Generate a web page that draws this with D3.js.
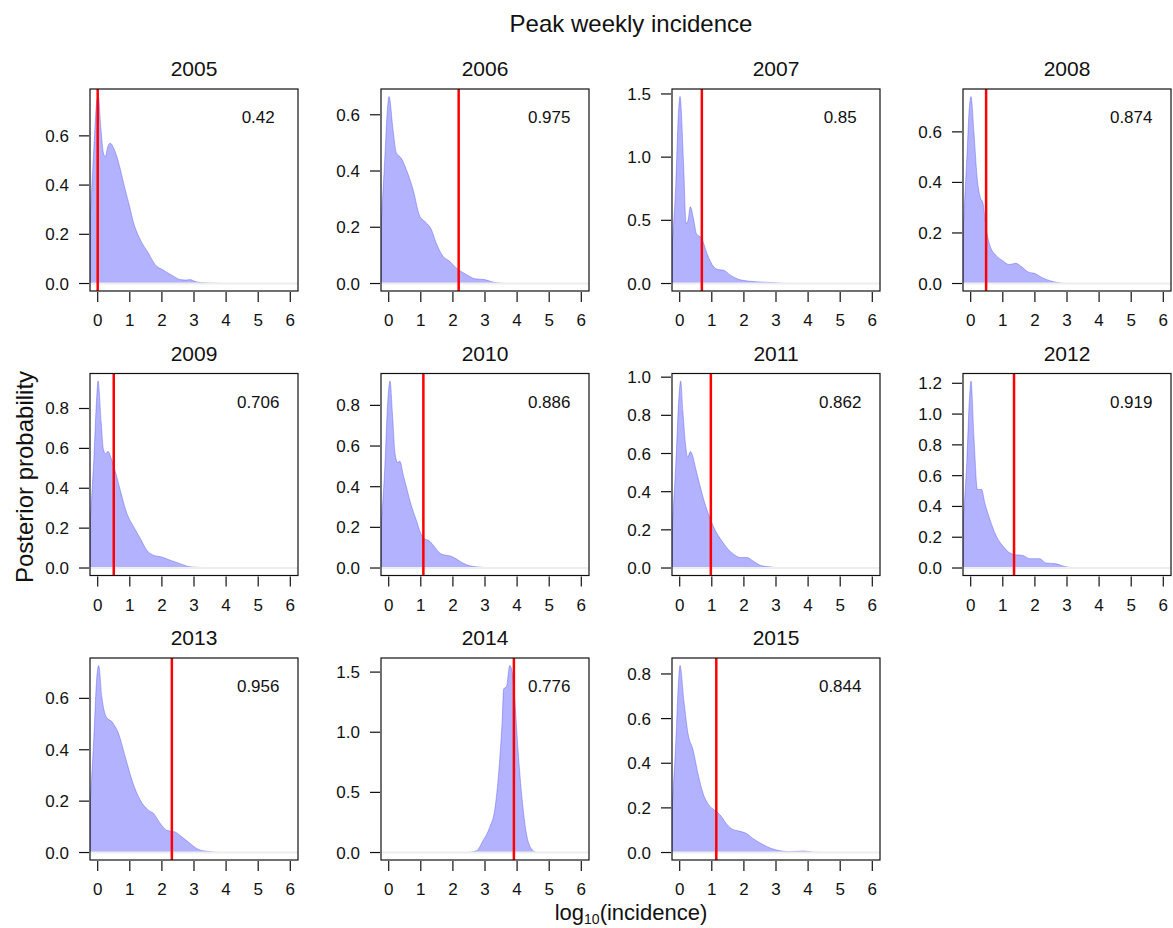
<!DOCTYPE html>
<html>
<head>
<meta charset="utf-8">
<script src="https://cdn.jsdelivr.net/npm/d3@7"></script>
<style>
  body { margin: 0; background: #fff; }
  svg text { font-family: "Liberation Sans", Arial, Helvetica, sans-serif; fill: #111; }
</style>
</head>
<body>
<div id="chart"></div>
<script>
// panel labels, observed peak (red line) and annotated probability
var years = [2005, 2006, 2007, 2008, 2009, 2010, 2011, 2012, 2013, 2014, 2015];
var observed = [0, 2.18, 0.69, 0.48, 0.5, 1.08, 0.97, 1.35, 2.31, 3.9, 1.14];
var probs = ['0.42', '0.975', '0.85', '0.874', '0.706', '0.886', '0.862', '0.919', '0.956', '0.776', '0.844'];
var xTicks = [0, 1, 2, 3, 4, 5, 6];

// posterior densities, [log10 incidence, density]
var d2005 = [[-0.24,0.25],[-0.12,0.55],[-0.03,0.74],[0.02,0.76],[0.1,0.63],[0.18,0.53],[0.24,0.515],[0.3,0.55],[0.39,0.57],[0.5,0.55],[0.6,0.515],[0.75,0.44],[0.86,0.38],[1.0,0.31],[1.12,0.246],[1.25,0.2],[1.38,0.165],[1.58,0.124],[1.7,0.095],[1.84,0.07],[2.0,0.058],[2.15,0.046],[2.36,0.03],[2.57,0.016],[2.75,0.014],[2.88,0.016],[3.0,0.01],[3.19,0.004],[3.5,0.002],[3.96,0]];
var d2006 = [[-0.24,0.2],[-0.12,0.45],[-0.04,0.62],[0.01,0.665],[0.135,0.547],[0.24,0.464],[0.39,0.446],[0.55,0.405],[0.76,0.334],[0.97,0.239],[1.12,0.221],[1.33,0.192],[1.48,0.144],[1.69,0.097],[1.9,0.079],[2.1,0.056],[2.42,0.032],[2.68,0.017],[2.99,0.014],[3.25,0.005],[3.61,0]];
var d2007 = [[-0.24,0.3],[-0.12,0.8],[-0.04,1.35],[0.01,1.48],[0.12,0.95],[0.2,0.475],[0.26,0.5],[0.33,0.607],[0.44,0.5],[0.52,0.396],[0.69,0.356],[0.85,0.238],[1.06,0.132],[1.21,0.11],[1.37,0.105],[1.58,0.066],[1.83,0.034],[2.2,0.018],[2.61,0.011],[2.92,0.008],[3.33,0]];
var d2008 = [[-0.24,0.2],[-0.12,0.5],[-0.04,0.7],[0.01,0.74],[0.1,0.6],[0.2,0.42],[0.3,0.34],[0.38,0.32],[0.48,0.22],[0.6,0.15],[0.8,0.11],[1.0,0.09],[1.2,0.075],[1.4,0.08],[1.6,0.065],[1.8,0.045],[2.0,0.04],[2.2,0.025],[2.5,0.01],[2.7,0.004],[3.0,0]];
var d2009 = [[-0.24,0.22],[-0.12,0.55],[-0.03,0.86],[0.01,0.938],[0.11,0.728],[0.18,0.593],[0.25,0.573],[0.32,0.585],[0.42,0.551],[0.55,0.484],[0.7,0.392],[0.91,0.274],[1.12,0.207],[1.33,0.148],[1.53,0.089],[1.74,0.064],[2.0,0.055],[2.26,0.039],[2.57,0.022],[2.88,0.006],[3.19,0.003],[3.65,0]];
var d2010 = [[-0.24,0.2],[-0.12,0.5],[-0.03,0.82],[0.04,0.92],[0.12,0.75],[0.2,0.56],[0.28,0.52],[0.35,0.525],[0.45,0.46],[0.55,0.4],[0.7,0.31],[0.85,0.24],[1.0,0.17],[1.1,0.145],[1.25,0.135],[1.4,0.11],[1.55,0.08],[1.7,0.065],[1.9,0.06],[2.05,0.05],[2.25,0.03],[2.5,0.012],[2.8,0.005],[3.25,0]];
var d2011 = [[-0.24,0.2],[-0.12,0.55],[-0.03,0.88],[0.03,0.98],[0.1,0.82],[0.18,0.65],[0.25,0.58],[0.33,0.61],[0.4,0.59],[0.5,0.52],[0.65,0.42],[0.8,0.33],[0.97,0.25],[1.1,0.2],[1.3,0.145],[1.5,0.1],[1.7,0.07],[1.9,0.055],[2.1,0.055],[2.3,0.035],[2.5,0.015],[2.8,0.006],[3.2,0]];
var d2012 = [[-0.24,0.3],[-0.12,0.7],[-0.04,1.1],[0.01,1.215],[0.1,0.857],[0.21,0.51],[0.34,0.51],[0.44,0.423],[0.6,0.315],[0.8,0.206],[1.01,0.141],[1.22,0.098],[1.37,0.087],[1.63,0.082],[1.83,0.061],[2.14,0.061],[2.35,0.033],[2.65,0.028],[2.96,0.008],[3.37,0]];
var d2013 = [[-0.24,0.18],[-0.12,0.45],[-0.03,0.68],[0.03,0.728],[0.13,0.605],[0.27,0.527],[0.45,0.508],[0.65,0.463],[0.86,0.372],[1.07,0.281],[1.33,0.203],[1.58,0.165],[1.74,0.152],[1.95,0.113],[2.15,0.087],[2.41,0.08],[2.62,0.061],[2.88,0.035],[3.14,0.012],[3.4,0.005],[3.86,0]];
var d2014 = [[2.42,0],[2.73,0.014],[2.94,0.1],[3.15,0.213],[3.3,0.351],[3.44,0.711],[3.54,1.126],[3.58,1.36],[3.67,1.38],[3.77,1.555],[3.84,1.514],[3.93,1.265],[4.03,0.85],[4.16,0.435],[4.29,0.158],[4.44,0.033],[4.6,0]];
var d2015 = [[-0.24,0.2],[-0.12,0.5],[-0.04,0.76],[0.01,0.838],[0.13,0.681],[0.26,0.532],[0.42,0.458],[0.57,0.353],[0.73,0.264],[0.88,0.219],[1.09,0.189],[1.27,0.167],[1.45,0.13],[1.61,0.107],[1.82,0.097],[2.08,0.085],[2.28,0.063],[2.54,0.04],[2.86,0.018],[3.17,0.007],[3.43,0.004],[3.84,0.007],[4.15,0.002],[4.57,0]];
var curves = [d2005, d2006, d2007, d2008, d2009, d2010, d2011, d2012, d2013, d2014, d2015];

var W = 1173, H = 928;
var colX = [90, 381, 672, 963];
var rowY = [89, 373.5, 658];
var pw = 208, ph = 202;

var svg = d3.select('#chart').append('svg')
    .attr('width', W).attr('height', H);

var x = d3.scaleLinear().domain([-0.24, 6.24]).range([0, pw]);

years.forEach(function(yr, i) {
  var data = curves[i];
  var M = d3.max(data, function(d){ return d[1]; });
  var y = d3.scaleLinear().domain([-0.04 * M, 1.04 * M]).range([ph, 0]);

  var g = svg.append('g')
      .attr('transform', 'translate(' + colX[i % 4] + ',' + rowY[Math.floor(i / 4)] + ')');

  g.append('clipPath').attr('id', 'clip' + yr)
    .append('rect').attr('width', pw).attr('height', ph);

  var plot = g.append('g').attr('clip-path', 'url(#clip' + yr + ')');

  var area = d3.area()
      .x(function(d){ return x(d[0]); })
      .y0(y(0))
      .y1(function(d){ return y(d[1]); })
      .curve(d3.curveMonotoneX);

  plot.append('path')
      .datum(data)
      .attr('d', area)
      .attr('fill', 'rgba(0,0,255,0.3)')
      .attr('stroke', 'rgba(60,60,240,0.35)')
      .attr('stroke-width', 1);

  // faint zero line
  plot.append('line')
      .attr('x1', 0).attr('x2', pw)
      .attr('y1', y(0)).attr('y2', y(0))
      .attr('stroke', '#eeeeee').attr('stroke-width', 2);

  // observed value
  plot.append('line')
      .attr('x1', x(observed[i])).attr('x2', x(observed[i]))
      .attr('y1', 0).attr('y2', ph)
      .attr('stroke', '#ff0000').attr('stroke-width', 2.5);

  g.append('rect')
      .attr('width', pw).attr('height', ph)
      .attr('fill', 'none').attr('stroke', '#111').attr('stroke-width', 1.2);

  // x axis
  var xa = g.append('g').attr('transform', 'translate(0,' + ph + ')');
  xa.selectAll('line').data(xTicks).enter().append('line')
      .attr('x1', function(d){ return x(d); }).attr('x2', function(d){ return x(d); })
      .attr('y1', 1).attr('y2', 11)
      .attr('stroke', '#111').attr('stroke-width', 1.2);
  xa.selectAll('text').data(xTicks).enter().append('text')
      .attr('x', function(d){ return x(d); })
      .attr('y', 35)
      .attr('text-anchor', 'middle')
      .style('font-size', '17px')
      .text(function(d){ return d; });

  // y axis
  var yTicks = y.ticks(5).filter(function(t){ return t >= 0; });
  var ya = g.append('g');
  ya.selectAll('line').data(yTicks).enter().append('line')
      .attr('x1', -11).attr('x2', -1)
      .attr('y1', function(d){ return y(d); }).attr('y2', function(d){ return y(d); })
      .attr('stroke', '#111').attr('stroke-width', 1.2);
  ya.selectAll('text').data(yTicks).enter().append('text')
      .attr('x', -21)
      .attr('y', function(d){ return y(d) + 6; })
      .attr('text-anchor', 'end')
      .style('font-size', '17px')
      .text(d3.format('.1f'));

  g.append('text')
      .attr('x', pw / 2).attr('y', -13)
      .attr('text-anchor', 'middle')
      .style('font-size', '21px')
      .text(yr);

  g.append('text')
      .attr('x', x(5)).attr('y', 34)
      .attr('text-anchor', 'middle')
      .style('font-size', '17px')
      .text(probs[i]);
});

svg.append('text')
    .attr('x', 631).attr('y', 32)
    .attr('text-anchor', 'middle')
    .style('font-size', '24px')
    .text('Peak weekly incidence');

svg.append('text')
    .attr('transform', 'translate(33,477) rotate(-90)')
    .attr('text-anchor', 'middle')
    .style('font-size', '24px')
    .text('Posterior probability');

var xl = svg.append('text')
    .attr('x', 631).attr('y', 920)
    .attr('text-anchor', 'middle')
    .style('font-size', '22px');
xl.append('tspan').text('log');
xl.append('tspan').attr('dy', 4).style('font-size', '14px').text('10');
xl.append('tspan').attr('dy', -4).text('(incidence)');
</script>
</body>
</html>
